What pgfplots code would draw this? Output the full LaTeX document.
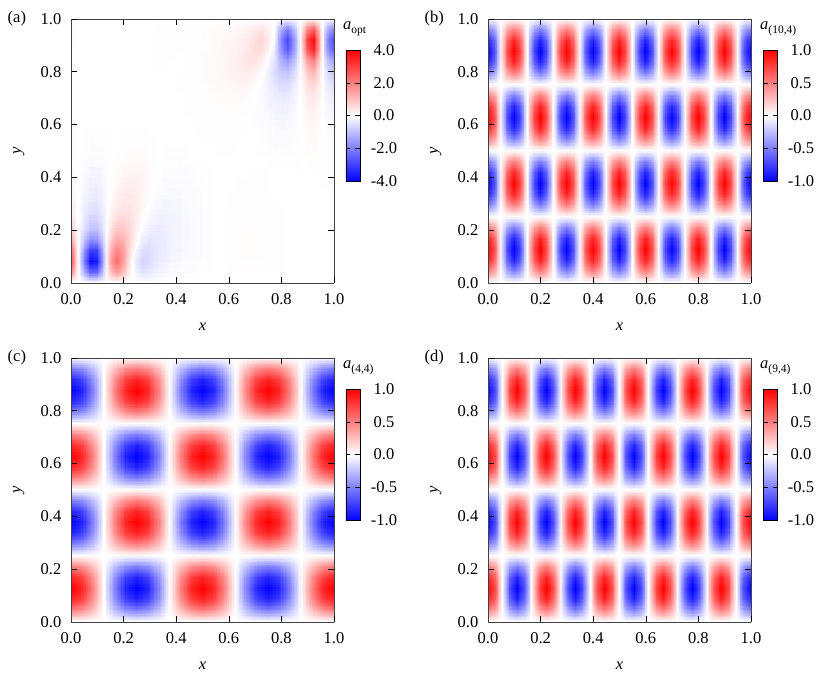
\documentclass[border=0pt]{standalone}
\usepackage{fontspec}
\setmainfont{Liberation Serif}
\usepackage{pgfplots}
\pgfplotsset{compat=1.18}
\usepgfplotslibrary{patchplots}
\AtBeginDocument{\fontsize{16.5}{19}\selectfont}
\newcommand\cbl[1]{\textit{a}\raisebox{-3.5pt}{\fontsize{11.5}{12}\selectfont #1}}
\pgfplotsset{
  colormap={bwr}{rgb255=(0,0,255) rgb255=(255,255,255) rgb255=(255,0,0)},
  onedec/.style={/pgf/number format/fixed, /pgf/number format/fixed zerofill, /pgf/number format/precision=1, /pgf/number format/assume math mode=true},
  panel/.style={
    scale only axis, width=263pt, height=264pt,
    view={0}{90},
    xmin=0, xmax=1, ymin=0, ymax=1,
    xtick={0,0.2,...,1}, ytick={0,0.2,...,1},
    tick align=inside, major tick length=6pt,
    tick style={black,line width=0.6pt}, axis line style={black!75,line width=0.9pt},
    scaled ticks=false,
    xticklabel style={onedec,yshift=-5pt}, yticklabel style={onedec,xshift=-4pt},
    xlabel={\textit{x}}, ylabel={\textit{y}},
    xlabel style={yshift=-7pt}, ylabel style={yshift=5pt},
    colormap name=bwr,
    colorbar,
  },
  cbar/.style={
    colorbar style={
      at={(1.0456,0.386)}, anchor=south west,
      scale only axis, width=14pt, height=131pt,
      ytick={#1}, ytick pos=both, yticklabel pos=right,
      ytick align=inside, major tick length=4.5pt,
      tick style={black,line width=0.6pt},
      yticklabel style={onedec,anchor=center,xshift=24pt},
    },
  },
  field/.style={surf, shader=interp, patch type=bilinear, mesh/cols=#1, mesh/ordering=x varies},
}
\begin{document}
\begin{tikzpicture}
\path[use as bounding box] (0,0) rectangle (830pt,679pt);
% (a) optimal field, 41 columns by 26 rows
\begin{axis}[panel, cbar={-4,-2,0,2,4}, at={(71pt,396pt)}, anchor=south west, point meta min=-4, point meta max=4]
\addplot3[field=41] table[row sep=\\, header=false, x expr={(\coordindex-41*floor((\coordindex+0.5)/41))/40}, y expr={floor((\coordindex+0.5)/41)/25}, z index=0] {
0\\0\\0\\0\\0\\0\\0\\0\\0\\0\\0\\0\\0\\0\\0\\0\\0\\0\\0\\0\\0\\0\\0\\0\\0\\0\\0\\0\\0\\0\\0\\0\\0\\0\\0\\0\\0\\0\\0\\0\\0\\
2.0\\.3\\-1.2\\-2.5\\-2.4\\-.8\\.9\\1.6\\1.0\\.2\\-.2\\-.45\\-.35\\-.22\\-.15\\-.1\\-.08\\-.06\\-.05\\-.03\\-.02\\-.01\\0\\0\\.01\\.02\\.03\\.03\\.03\\.03\\.02\\.01\\.01\\0\\0\\0\\0\\0\\0\\0\\0\\
3.0\\.4\\-1.9\\-3.8\\-3.6\\-1.2\\1.4\\2.4\\1.5\\.3\\-.35\\-.7\\-.55\\-.35\\-.25\\-.18\\-.13\\-.1\\-.08\\-.05\\-.03\\-.01\\0\\.01\\.02\\.03\\.05\\.05\\.05\\.04\\.03\\.02\\.01\\0\\0\\0\\0\\0\\0\\0\\0\\
2.5\\.3\\-1.5\\-3.1\\-3.0\\-1.0\\1.1\\2.0\\1.5\\.5\\-.15\\-.55\\-.5\\-.38\\-.28\\-.2\\-.15\\-.11\\-.09\\-.06\\-.03\\-.01\\0\\.01\\.02\\.03\\.05\\.05\\.05\\.04\\.03\\.02\\.01\\0\\0\\0\\0\\0\\0\\0\\0\\
1.5\\.2\\-.9\\-1.8\\-1.7\\-.6\\.7\\1.4\\1.2\\.6\\.1\\-.3\\-.4\\-.35\\-.28\\-.2\\-.16\\-.12\\-.09\\-.06\\-.03\\-.01\\0\\.01\\.02\\.03\\.04\\.04\\.04\\.03\\.03\\.02\\.01\\0\\0\\0\\0\\0\\0\\0\\0\\
.9\\.1\\-.5\\-1.0\\-1.0\\-.4\\.4\\.9\\.9\\.6\\.2\\-.1\\-.25\\-.3\\-.25\\-.2\\-.15\\-.12\\-.09\\-.06\\-.03\\-.01\\0\\.01\\.01\\.02\\.03\\.03\\.03\\.03\\.02\\.02\\.01\\0\\0\\0\\0\\0\\0\\0\\0\\
.55\\.05\\-.35\\-.65\\-.65\\-.3\\.2\\.55\\.65\\.5\\.28\\.02\\-.15\\-.2\\-.2\\-.17\\-.14\\-.11\\-.08\\-.06\\-.03\\-.01\\0\\.01\\.01\\.02\\.02\\.02\\.02\\.02\\.02\\.01\\.01\\0\\0\\0\\0\\0\\0\\0\\0\\
.35\\.03\\-.25\\-.45\\-.45\\-.22\\.12\\.35\\.45\\.42\\.3\\.1\\-.06\\-.14\\-.15\\-.14\\-.12\\-.1\\-.07\\-.05\\-.03\\-.01\\0\\0\\.01\\.01\\.02\\.02\\.02\\.02\\.01\\.01\\0\\0\\0\\0\\0\\0\\0\\0\\0\\
.22\\.02\\-.18\\-.32\\-.32\\-.18\\.06\\.24\\.32\\.33\\.28\\.14\\0\\-.08\\-.11\\-.11\\-.1\\-.08\\-.06\\-.04\\-.02\\-.01\\0\\0\\.01\\.01\\.01\\.01\\.01\\.01\\.01\\0\\0\\0\\0\\0\\0\\0\\0\\0\\0\\
.15\\.01\\-.13\\-.24\\-.24\\-.14\\.03\\.16\\.24\\.26\\.24\\.15\\.04\\-.04\\-.07\\-.08\\-.08\\-.06\\-.05\\-.03\\-.02\\-.01\\0\\0\\0\\.01\\.01\\.01\\.01\\.01\\0\\0\\0\\0\\0\\0\\0\\0\\.01\\.01\\0\\
.1\\.01\\-.1\\-.18\\-.18\\-.11\\.01\\.1\\.17\\.2\\.19\\.14\\.06\\-.01\\-.04\\-.05\\-.05\\-.04\\-.03\\-.02\\-.01\\-.01\\0\\0\\0\\0\\0\\.01\\.01\\.01\\0\\0\\0\\0\\-.01\\-.01\\0\\.01\\.02\\.02\\-.01\\
.06\\.01\\-.06\\-.1\\-.1\\-.06\\0\\.05\\.08\\.11\\.11\\.08\\.04\\0\\-.02\\-.03\\-.03\\-.02\\-.02\\-.01\\-.01\\0\\0\\0\\0\\0\\0\\0\\0\\0\\-.01\\-.02\\-.02\\-.02\\-.01\\0\\.02\\.03\\.01\\-.01\\-.02\\
.03\\0\\-.03\\-.05\\-.05\\-.03\\0\\.02\\.04\\.05\\.05\\.04\\.02\\0\\-.01\\-.01\\-.01\\-.01\\0\\0\\0\\0\\.01\\.01\\.01\\0\\0\\0\\-.01\\-.02\\-.03\\-.04\\-.05\\-.03\\-.02\\.01\\.04\\.05\\.01\\-.02\\-.04\\
.02\\0\\-.02\\-.03\\-.03\\-.02\\0\\.01\\.02\\.03\\.03\\.02\\.01\\0\\0\\0\\0\\0\\0\\0\\.01\\.01\\.01\\.01\\.01\\.01\\0\\0\\-.01\\-.03\\-.05\\-.06\\-.07\\-.05\\-.03\\.01\\.06\\.08\\.02\\-.03\\-.06\\
.01\\0\\-.01\\-.01\\-.01\\-.01\\0\\.01\\.01\\.02\\.01\\.01\\0\\0\\0\\0\\0\\0\\0\\.01\\.01\\.01\\.02\\.02\\.02\\.02\\.01\\0\\-.02\\-.05\\-.07\\-.09\\-.1\\-.08\\-.04\\.01\\.09\\.11\\.03\\-.05\\-.09\\
0\\0\\0\\0\\0\\0\\0\\0\\0\\0\\0\\0\\0\\0\\0\\0\\0\\0\\.01\\.01\\.02\\.02\\.03\\.03\\.03\\.03\\.02\\0\\-.03\\-.07\\-.1\\-.13\\-.14\\-.12\\-.06\\.02\\.12\\.16\\.04\\-.07\\-.12\\
0\\0\\0\\0\\0\\0\\0\\0\\0\\0\\0\\0\\0\\0\\0\\0\\0\\.01\\.01\\.02\\.02\\.03\\.04\\.05\\.05\\.05\\.04\\.01\\-.04\\-.08\\-.13\\-.17\\-.2\\-.17\\-.09\\.02\\.17\\.22\\.06\\-.1\\-.18\\
0\\0\\0\\0\\0\\0\\0\\0\\0\\0\\0\\0\\0\\0\\0\\0\\0\\.01\\.02\\.02\\.03\\.05\\.06\\.07\\.08\\.08\\.07\\.03\\-.03\\-.09\\-.16\\-.24\\-.28\\-.25\\-.14\\.02\\.24\\.32\\.08\\-.15\\-.26\\
0\\0\\0\\0\\0\\0\\0\\0\\0\\0\\0\\0\\0\\0\\0\\0\\.01\\.01\\.02\\.03\\.05\\.06\\.08\\.09\\.11\\.12\\.12\\.08\\.01\\-.08\\-.2\\-.33\\-.42\\-.38\\-.22\\.02\\.35\\.48\\.12\\-.22\\-.4\\
0\\0\\0\\0\\0\\0\\0\\0\\0\\0\\0\\0\\0\\0\\0\\0\\.01\\.02\\.03\\.04\\.06\\.08\\.1\\.12\\.15\\.17\\.2\\.18\\.1\\-.03\\-.2\\-.45\\-.6\\-.6\\-.35\\.02\\.55\\.75\\.18\\-.35\\-.6\\
0\\0\\0\\0\\0\\0\\0\\0\\0\\0\\0\\0\\-.01\\-.01\\-.01\\0\\0\\.02\\.03\\.05\\.07\\.09\\.11\\.14\\.18\\.22\\.28\\.3\\.22\\.05\\-.2\\-.55\\-.9\\-1.0\\-.6\\.03\\.9\\1.2\\.28\\-.55\\-.9\\
0\\0\\0\\0\\0\\0\\0\\0\\0\\0\\0\\0\\-.01\\-.01\\-.01\\-.01\\0\\.01\\.03\\.05\\.07\\.09\\.11\\.14\\.18\\.24\\.34\\.45\\.45\\.3\\-.05\\-.45\\-1.2\\-1.6\\-.95\\.05\\1.5\\2.0\\.45\\-.9\\-1.5\\
.01\\0\\0\\0\\0\\0\\0\\0\\0\\0\\0\\0\\-.01\\-.01\\-.02\\-.02\\-.01\\.01\\.03\\.04\\.05\\.07\\.09\\.12\\.15\\.2\\.28\\.4\\.55\\.55\\.15\\-.35\\-1.7\\-2.6\\-1.5\\.1\\2.6\\3.4\\.7\\-1.6\\-2.5\\
.01\\0\\0\\0\\0\\0\\0\\0\\0\\0\\0\\0\\-.01\\-.01\\-.02\\-.02\\-.01\\.01\\.02\\.03\\.05\\.07\\.09\\.11\\.13\\.16\\.22\\.32\\.5\\.65\\.35\\-.1\\-1.9\\-2.9\\-1.6\\.2\\3.0\\3.8\\.8\\-1.8\\-2.8\\
.01\\0\\0\\0\\0\\0\\0\\0\\0\\0\\0\\0\\0\\-.01\\-.01\\-.01\\0\\.01\\.01\\.02\\.03\\.04\\.06\\.07\\.08\\.1\\.14\\.2\\.33\\.42\\.22\\-.05\\-1.3\\-2.0\\-1\\.1\\1.9\\2.5\\.5\\-1.2\\-1.9\\
0\\0\\0\\0\\0\\0\\0\\0\\0\\0\\0\\0\\0\\0\\0\\0\\0\\0\\0\\0\\0\\0\\0\\0\\0\\0\\0\\0\\0\\0\\0\\0\\0\\0\\0\\0\\0\\0\\0\\0\\0\\
};
\end{axis}
% (b) mode (10,4), 41 columns by 25 rows
\begin{axis}[panel, cbar={-1,-0.5,0,0.5,1}, at={(488pt,396pt)}, anchor=south west, point meta min=-1, point meta max=1]
\addplot3[field=41] table[row sep=\\, header=false, x expr={(\coordindex-41*floor((\coordindex+0.5)/41))/40}, y expr={floor((\coordindex+0.5)/41)/24}, z index=0] {
0\\0\\0\\0\\0\\0\\0\\0\\0\\0\\0\\0\\0\\0\\0\\0\\0\\0\\0\\0\\0\\0\\0\\0\\0\\0\\0\\0\\0\\0\\0\\0\\0\\0\\0\\0\\0\\0\\0\\0\\0\\
.5\\.35\\0\\-.35\\-.5\\-.35\\0\\.35\\.5\\.35\\0\\-.35\\-.5\\-.35\\0\\.35\\.5\\.35\\0\\-.35\\-.5\\-.35\\0\\.35\\.5\\.35\\0\\-.35\\-.5\\-.35\\0\\.35\\.5\\.35\\0\\-.35\\-.5\\-.35\\0\\.35\\.5\\
.87\\.61\\0\\-.61\\-.87\\-.61\\0\\.61\\.87\\.61\\0\\-.61\\-.87\\-.61\\0\\.61\\.87\\.61\\0\\-.61\\-.87\\-.61\\0\\.61\\.87\\.61\\0\\-.61\\-.87\\-.61\\0\\.61\\.87\\.61\\0\\-.61\\-.87\\-.61\\0\\.61\\.87\\
1\\.71\\0\\-.71\\-1\\-.71\\0\\.71\\1\\.71\\0\\-.71\\-1\\-.71\\0\\.71\\1\\.71\\0\\-.71\\-1\\-.71\\0\\.71\\1\\.71\\0\\-.71\\-1\\-.71\\0\\.71\\1\\.71\\0\\-.71\\-1\\-.71\\0\\.71\\1\\
.87\\.61\\0\\-.61\\-.87\\-.61\\0\\.61\\.87\\.61\\0\\-.61\\-.87\\-.61\\0\\.61\\.87\\.61\\0\\-.61\\-.87\\-.61\\0\\.61\\.87\\.61\\0\\-.61\\-.87\\-.61\\0\\.61\\.87\\.61\\0\\-.61\\-.87\\-.61\\0\\.61\\.87\\
.5\\.35\\0\\-.35\\-.5\\-.35\\0\\.35\\.5\\.35\\0\\-.35\\-.5\\-.35\\0\\.35\\.5\\.35\\0\\-.35\\-.5\\-.35\\0\\.35\\.5\\.35\\0\\-.35\\-.5\\-.35\\0\\.35\\.5\\.35\\0\\-.35\\-.5\\-.35\\0\\.35\\.5\\
0\\0\\0\\0\\0\\0\\0\\0\\0\\0\\0\\0\\0\\0\\0\\0\\0\\0\\0\\0\\0\\0\\0\\0\\0\\0\\0\\0\\0\\0\\0\\0\\0\\0\\0\\0\\0\\0\\0\\0\\0\\
-0.5\\-.35\\0\\.35\\.5\\.35\\0\\-.35\\-.5\\-.35\\0\\.35\\.5\\.35\\0\\-.35\\-.5\\-.35\\0\\.35\\.5\\.35\\0\\-.35\\-.5\\-.35\\0\\.35\\.5\\.35\\0\\-.35\\-.5\\-.35\\0\\.35\\.5\\.35\\0\\-.35\\-.5\\
-0.87\\-.61\\0\\.61\\.87\\.61\\0\\-.61\\-.87\\-.61\\0\\.61\\.87\\.61\\0\\-.61\\-.87\\-.61\\0\\.61\\.87\\.61\\0\\-.61\\-.87\\-.61\\0\\.61\\.87\\.61\\0\\-.61\\-.87\\-.61\\0\\.61\\.87\\.61\\0\\-.61\\-.87\\
-1\\-.71\\0\\.71\\1\\.71\\0\\-.71\\-1\\-.71\\0\\.71\\1\\.71\\0\\-.71\\-1\\-.71\\0\\.71\\1\\.71\\0\\-.71\\-1\\-.71\\0\\.71\\1\\.71\\0\\-.71\\-1\\-.71\\0\\.71\\1\\.71\\0\\-.71\\-1\\
-0.87\\-.61\\0\\.61\\.87\\.61\\0\\-.61\\-.87\\-.61\\0\\.61\\.87\\.61\\0\\-.61\\-.87\\-.61\\0\\.61\\.87\\.61\\0\\-.61\\-.87\\-.61\\0\\.61\\.87\\.61\\0\\-.61\\-.87\\-.61\\0\\.61\\.87\\.61\\0\\-.61\\-.87\\
-0.5\\-.35\\0\\.35\\.5\\.35\\0\\-.35\\-.5\\-.35\\0\\.35\\.5\\.35\\0\\-.35\\-.5\\-.35\\0\\.35\\.5\\.35\\0\\-.35\\-.5\\-.35\\0\\.35\\.5\\.35\\0\\-.35\\-.5\\-.35\\0\\.35\\.5\\.35\\0\\-.35\\-.5\\
0\\0\\0\\0\\0\\0\\0\\0\\0\\0\\0\\0\\0\\0\\0\\0\\0\\0\\0\\0\\0\\0\\0\\0\\0\\0\\0\\0\\0\\0\\0\\0\\0\\0\\0\\0\\0\\0\\0\\0\\0\\
.5\\.35\\0\\-.35\\-.5\\-.35\\0\\.35\\.5\\.35\\0\\-.35\\-.5\\-.35\\0\\.35\\.5\\.35\\0\\-.35\\-.5\\-.35\\0\\.35\\.5\\.35\\0\\-.35\\-.5\\-.35\\0\\.35\\.5\\.35\\0\\-.35\\-.5\\-.35\\0\\.35\\.5\\
.87\\.61\\0\\-.61\\-.87\\-.61\\0\\.61\\.87\\.61\\0\\-.61\\-.87\\-.61\\0\\.61\\.87\\.61\\0\\-.61\\-.87\\-.61\\0\\.61\\.87\\.61\\0\\-.61\\-.87\\-.61\\0\\.61\\.87\\.61\\0\\-.61\\-.87\\-.61\\0\\.61\\.87\\
1\\.71\\0\\-.71\\-1\\-.71\\0\\.71\\1\\.71\\0\\-.71\\-1\\-.71\\0\\.71\\1\\.71\\0\\-.71\\-1\\-.71\\0\\.71\\1\\.71\\0\\-.71\\-1\\-.71\\0\\.71\\1\\.71\\0\\-.71\\-1\\-.71\\0\\.71\\1\\
.87\\.61\\0\\-.61\\-.87\\-.61\\0\\.61\\.87\\.61\\0\\-.61\\-.87\\-.61\\0\\.61\\.87\\.61\\0\\-.61\\-.87\\-.61\\0\\.61\\.87\\.61\\0\\-.61\\-.87\\-.61\\0\\.61\\.87\\.61\\0\\-.61\\-.87\\-.61\\0\\.61\\.87\\
.5\\.35\\0\\-.35\\-.5\\-.35\\0\\.35\\.5\\.35\\0\\-.35\\-.5\\-.35\\0\\.35\\.5\\.35\\0\\-.35\\-.5\\-.35\\0\\.35\\.5\\.35\\0\\-.35\\-.5\\-.35\\0\\.35\\.5\\.35\\0\\-.35\\-.5\\-.35\\0\\.35\\.5\\
0\\0\\0\\0\\0\\0\\0\\0\\0\\0\\0\\0\\0\\0\\0\\0\\0\\0\\0\\0\\0\\0\\0\\0\\0\\0\\0\\0\\0\\0\\0\\0\\0\\0\\0\\0\\0\\0\\0\\0\\0\\
-0.5\\-.35\\0\\.35\\.5\\.35\\0\\-.35\\-.5\\-.35\\0\\.35\\.5\\.35\\0\\-.35\\-.5\\-.35\\0\\.35\\.5\\.35\\0\\-.35\\-.5\\-.35\\0\\.35\\.5\\.35\\0\\-.35\\-.5\\-.35\\0\\.35\\.5\\.35\\0\\-.35\\-.5\\
-0.87\\-.61\\0\\.61\\.87\\.61\\0\\-.61\\-.87\\-.61\\0\\.61\\.87\\.61\\0\\-.61\\-.87\\-.61\\0\\.61\\.87\\.61\\0\\-.61\\-.87\\-.61\\0\\.61\\.87\\.61\\0\\-.61\\-.87\\-.61\\0\\.61\\.87\\.61\\0\\-.61\\-.87\\
-1\\-.71\\0\\.71\\1\\.71\\0\\-.71\\-1\\-.71\\0\\.71\\1\\.71\\0\\-.71\\-1\\-.71\\0\\.71\\1\\.71\\0\\-.71\\-1\\-.71\\0\\.71\\1\\.71\\0\\-.71\\-1\\-.71\\0\\.71\\1\\.71\\0\\-.71\\-1\\
-0.87\\-.61\\0\\.61\\.87\\.61\\0\\-.61\\-.87\\-.61\\0\\.61\\.87\\.61\\0\\-.61\\-.87\\-.61\\0\\.61\\.87\\.61\\0\\-.61\\-.87\\-.61\\0\\.61\\.87\\.61\\0\\-.61\\-.87\\-.61\\0\\.61\\.87\\.61\\0\\-.61\\-.87\\
-0.5\\-.35\\0\\.35\\.5\\.35\\0\\-.35\\-.5\\-.35\\0\\.35\\.5\\.35\\0\\-.35\\-.5\\-.35\\0\\.35\\.5\\.35\\0\\-.35\\-.5\\-.35\\0\\.35\\.5\\.35\\0\\-.35\\-.5\\-.35\\0\\.35\\.5\\.35\\0\\-.35\\-.5\\
0\\0\\0\\0\\0\\0\\0\\0\\0\\0\\0\\0\\0\\0\\0\\0\\0\\0\\0\\0\\0\\0\\0\\0\\0\\0\\0\\0\\0\\0\\0\\0\\0\\0\\0\\0\\0\\0\\0\\0\\0\\
};
\end{axis}
% (c) mode (4,4), 25 columns by 25 rows
\begin{axis}[panel, cbar={-1,-0.5,0,0.5,1}, at={(71pt,57pt)}, anchor=south west, point meta min=-1, point meta max=1]
\addplot3[field=25] table[row sep=\\, header=false, x expr={(\coordindex-25*floor((\coordindex+0.5)/25))/24}, y expr={floor((\coordindex+0.5)/25)/24}, z index=0] {
0\\0\\0\\0\\0\\0\\0\\0\\0\\0\\0\\0\\0\\0\\0\\0\\0\\0\\0\\0\\0\\0\\0\\0\\0\\
.5\\.43\\.25\\0\\-.25\\-.43\\-.5\\-.43\\-.25\\0\\.25\\.43\\.5\\.43\\.25\\0\\-.25\\-.43\\-.5\\-.43\\-.25\\0\\.25\\.43\\.5\\
.87\\.75\\.43\\0\\-.43\\-.75\\-.87\\-.75\\-.43\\0\\.43\\.75\\.87\\.75\\.43\\0\\-.43\\-.75\\-.87\\-.75\\-.43\\0\\.43\\.75\\.87\\
1\\.87\\.5\\0\\-.5\\-.87\\-1\\-.87\\-.5\\0\\.5\\.87\\1\\.87\\.5\\0\\-.5\\-.87\\-1\\-.87\\-.5\\0\\.5\\.87\\1\\
.87\\.75\\.43\\0\\-.43\\-.75\\-.87\\-.75\\-.43\\0\\.43\\.75\\.87\\.75\\.43\\0\\-.43\\-.75\\-.87\\-.75\\-.43\\0\\.43\\.75\\.87\\
.5\\.43\\.25\\0\\-.25\\-.43\\-.5\\-.43\\-.25\\0\\.25\\.43\\.5\\.43\\.25\\0\\-.25\\-.43\\-.5\\-.43\\-.25\\0\\.25\\.43\\.5\\
0\\0\\0\\0\\0\\0\\0\\0\\0\\0\\0\\0\\0\\0\\0\\0\\0\\0\\0\\0\\0\\0\\0\\0\\0\\
-0.5\\-.43\\-.25\\0\\.25\\.43\\.5\\.43\\.25\\0\\-.25\\-.43\\-.5\\-.43\\-.25\\0\\.25\\.43\\.5\\.43\\.25\\0\\-.25\\-.43\\-.5\\
-0.87\\-.75\\-.43\\0\\.43\\.75\\.87\\.75\\.43\\0\\-.43\\-.75\\-.87\\-.75\\-.43\\0\\.43\\.75\\.87\\.75\\.43\\0\\-.43\\-.75\\-.87\\
-1\\-.87\\-.5\\0\\.5\\.87\\1\\.87\\.5\\0\\-.5\\-.87\\-1\\-.87\\-.5\\0\\.5\\.87\\1\\.87\\.5\\0\\-.5\\-.87\\-1\\
-0.87\\-.75\\-.43\\0\\.43\\.75\\.87\\.75\\.43\\0\\-.43\\-.75\\-.87\\-.75\\-.43\\0\\.43\\.75\\.87\\.75\\.43\\0\\-.43\\-.75\\-.87\\
-0.5\\-.43\\-.25\\0\\.25\\.43\\.5\\.43\\.25\\0\\-.25\\-.43\\-.5\\-.43\\-.25\\0\\.25\\.43\\.5\\.43\\.25\\0\\-.25\\-.43\\-.5\\
0\\0\\0\\0\\0\\0\\0\\0\\0\\0\\0\\0\\0\\0\\0\\0\\0\\0\\0\\0\\0\\0\\0\\0\\0\\
.5\\.43\\.25\\0\\-.25\\-.43\\-.5\\-.43\\-.25\\0\\.25\\.43\\.5\\.43\\.25\\0\\-.25\\-.43\\-.5\\-.43\\-.25\\0\\.25\\.43\\.5\\
.87\\.75\\.43\\0\\-.43\\-.75\\-.87\\-.75\\-.43\\0\\.43\\.75\\.87\\.75\\.43\\0\\-.43\\-.75\\-.87\\-.75\\-.43\\0\\.43\\.75\\.87\\
1\\.87\\.5\\0\\-.5\\-.87\\-1\\-.87\\-.5\\0\\.5\\.87\\1\\.87\\.5\\0\\-.5\\-.87\\-1\\-.87\\-.5\\0\\.5\\.87\\1\\
.87\\.75\\.43\\0\\-.43\\-.75\\-.87\\-.75\\-.43\\0\\.43\\.75\\.87\\.75\\.43\\0\\-.43\\-.75\\-.87\\-.75\\-.43\\0\\.43\\.75\\.87\\
.5\\.43\\.25\\0\\-.25\\-.43\\-.5\\-.43\\-.25\\0\\.25\\.43\\.5\\.43\\.25\\0\\-.25\\-.43\\-.5\\-.43\\-.25\\0\\.25\\.43\\.5\\
0\\0\\0\\0\\0\\0\\0\\0\\0\\0\\0\\0\\0\\0\\0\\0\\0\\0\\0\\0\\0\\0\\0\\0\\0\\
-0.5\\-.43\\-.25\\0\\.25\\.43\\.5\\.43\\.25\\0\\-.25\\-.43\\-.5\\-.43\\-.25\\0\\.25\\.43\\.5\\.43\\.25\\0\\-.25\\-.43\\-.5\\
-0.87\\-.75\\-.43\\0\\.43\\.75\\.87\\.75\\.43\\0\\-.43\\-.75\\-.87\\-.75\\-.43\\0\\.43\\.75\\.87\\.75\\.43\\0\\-.43\\-.75\\-.87\\
-1\\-.87\\-.5\\0\\.5\\.87\\1\\.87\\.5\\0\\-.5\\-.87\\-1\\-.87\\-.5\\0\\.5\\.87\\1\\.87\\.5\\0\\-.5\\-.87\\-1\\
-0.87\\-.75\\-.43\\0\\.43\\.75\\.87\\.75\\.43\\0\\-.43\\-.75\\-.87\\-.75\\-.43\\0\\.43\\.75\\.87\\.75\\.43\\0\\-.43\\-.75\\-.87\\
-0.5\\-.43\\-.25\\0\\.25\\.43\\.5\\.43\\.25\\0\\-.25\\-.43\\-.5\\-.43\\-.25\\0\\.25\\.43\\.5\\.43\\.25\\0\\-.25\\-.43\\-.5\\
0\\0\\0\\0\\0\\0\\0\\0\\0\\0\\0\\0\\0\\0\\0\\0\\0\\0\\0\\0\\0\\0\\0\\0\\0\\
};
\end{axis}
% (d) mode (9,4), 37 columns by 25 rows
\begin{axis}[panel, cbar={-1,-0.5,0,0.5,1}, at={(488pt,57pt)}, anchor=south west, point meta min=-1, point meta max=1]
\addplot3[field=37] table[row sep=\\, header=false, x expr={(\coordindex-37*floor((\coordindex+0.5)/37))/36}, y expr={floor((\coordindex+0.5)/37)/24}, z index=0] {
0\\0\\0\\0\\0\\0\\0\\0\\ 0\\0\\0\\0\\0\\0\\0\\0\\ 0\\0\\0\\0\\0\\0\\0\\0\\ 0\\0\\0\\0\\0\\0\\0\\0\\ 0\\0\\0\\0\\0\\
.5\\.35\\0\\-.35\\-.5\\-.35\\0\\.35\\
.5\\.35\\0\\-.35\\-.5\\-.35\\0\\.35\\
.5\\.35\\0\\-.35\\-.5\\-.35\\0\\.35\\
.5\\.35\\0\\-.35\\-.5\\-.35\\0\\.35\\
.5\\.35\\0\\-.35\\-.5\\
.87\\.61\\0\\-.61\\-.87\\-.61\\0\\.61\\
.87\\.61\\0\\-.61\\-.87\\-.61\\0\\.61\\
.87\\.61\\0\\-.61\\-.87\\-.61\\0\\.61\\
.87\\.61\\0\\-.61\\-.87\\-.61\\0\\.61\\
.87\\.61\\0\\-.61\\-.87\\
1\\.71\\0\\-.71\\-1\\-.71\\0\\.71\\
1\\.71\\0\\-.71\\-1\\-.71\\0\\.71\\
1\\.71\\0\\-.71\\-1\\-.71\\0\\.71\\
1\\.71\\0\\-.71\\-1\\-.71\\0\\.71\\
1\\.71\\0\\-.71\\-1\\
.87\\.61\\0\\-.61\\-.87\\-.61\\0\\.61\\
.87\\.61\\0\\-.61\\-.87\\-.61\\0\\.61\\
.87\\.61\\0\\-.61\\-.87\\-.61\\0\\.61\\
.87\\.61\\0\\-.61\\-.87\\-.61\\0\\.61\\
.87\\.61\\0\\-.61\\-.87\\
.5\\.35\\0\\-.35\\-.5\\-.35\\0\\.35\\
.5\\.35\\0\\-.35\\-.5\\-.35\\0\\.35\\
.5\\.35\\0\\-.35\\-.5\\-.35\\0\\.35\\
.5\\.35\\0\\-.35\\-.5\\-.35\\0\\.35\\
.5\\.35\\0\\-.35\\-.5\\
0\\0\\0\\0\\0\\0\\0\\0\\ 0\\0\\0\\0\\0\\0\\0\\0\\ 0\\0\\0\\0\\0\\0\\0\\0\\ 0\\0\\0\\0\\0\\0\\0\\0\\ 0\\0\\0\\0\\0\\
-0.5\\-.35\\0\\.35\\.5\\.35\\0\\-.35\\
-0.5\\-.35\\0\\.35\\.5\\.35\\0\\-.35\\
-0.5\\-.35\\0\\.35\\.5\\.35\\0\\-.35\\
-0.5\\-.35\\0\\.35\\.5\\.35\\0\\-.35\\
-0.5\\-.35\\0\\.35\\.5\\
-0.87\\-.61\\0\\.61\\.87\\.61\\0\\-.61\\
-0.87\\-.61\\0\\.61\\.87\\.61\\0\\-.61\\
-0.87\\-.61\\0\\.61\\.87\\.61\\0\\-.61\\
-0.87\\-.61\\0\\.61\\.87\\.61\\0\\-.61\\
-0.87\\-.61\\0\\.61\\.87\\
-1\\-.71\\0\\.71\\1\\.71\\0\\-.71\\
-1\\-.71\\0\\.71\\1\\.71\\0\\-.71\\
-1\\-.71\\0\\.71\\1\\.71\\0\\-.71\\
-1\\-.71\\0\\.71\\1\\.71\\0\\-.71\\
-1\\-.71\\0\\.71\\1\\
-0.87\\-.61\\0\\.61\\.87\\.61\\0\\-.61\\
-0.87\\-.61\\0\\.61\\.87\\.61\\0\\-.61\\
-0.87\\-.61\\0\\.61\\.87\\.61\\0\\-.61\\
-0.87\\-.61\\0\\.61\\.87\\.61\\0\\-.61\\
-0.87\\-.61\\0\\.61\\.87\\
-0.5\\-.35\\0\\.35\\.5\\.35\\0\\-.35\\
-0.5\\-.35\\0\\.35\\.5\\.35\\0\\-.35\\
-0.5\\-.35\\0\\.35\\.5\\.35\\0\\-.35\\
-0.5\\-.35\\0\\.35\\.5\\.35\\0\\-.35\\
-0.5\\-.35\\0\\.35\\.5\\
0\\0\\0\\0\\0\\0\\0\\0\\ 0\\0\\0\\0\\0\\0\\0\\0\\ 0\\0\\0\\0\\0\\0\\0\\0\\ 0\\0\\0\\0\\0\\0\\0\\0\\ 0\\0\\0\\0\\0\\
.5\\.35\\0\\-.35\\-.5\\-.35\\0\\.35\\
.5\\.35\\0\\-.35\\-.5\\-.35\\0\\.35\\
.5\\.35\\0\\-.35\\-.5\\-.35\\0\\.35\\
.5\\.35\\0\\-.35\\-.5\\-.35\\0\\.35\\
.5\\.35\\0\\-.35\\-.5\\
.87\\.61\\0\\-.61\\-.87\\-.61\\0\\.61\\
.87\\.61\\0\\-.61\\-.87\\-.61\\0\\.61\\
.87\\.61\\0\\-.61\\-.87\\-.61\\0\\.61\\
.87\\.61\\0\\-.61\\-.87\\-.61\\0\\.61\\
.87\\.61\\0\\-.61\\-.87\\
1\\.71\\0\\-.71\\-1\\-.71\\0\\.71\\
1\\.71\\0\\-.71\\-1\\-.71\\0\\.71\\
1\\.71\\0\\-.71\\-1\\-.71\\0\\.71\\
1\\.71\\0\\-.71\\-1\\-.71\\0\\.71\\
1\\.71\\0\\-.71\\-1\\
.87\\.61\\0\\-.61\\-.87\\-.61\\0\\.61\\
.87\\.61\\0\\-.61\\-.87\\-.61\\0\\.61\\
.87\\.61\\0\\-.61\\-.87\\-.61\\0\\.61\\
.87\\.61\\0\\-.61\\-.87\\-.61\\0\\.61\\
.87\\.61\\0\\-.61\\-.87\\
.5\\.35\\0\\-.35\\-.5\\-.35\\0\\.35\\
.5\\.35\\0\\-.35\\-.5\\-.35\\0\\.35\\
.5\\.35\\0\\-.35\\-.5\\-.35\\0\\.35\\
.5\\.35\\0\\-.35\\-.5\\-.35\\0\\.35\\
.5\\.35\\0\\-.35\\-.5\\
0\\0\\0\\0\\0\\0\\0\\0\\ 0\\0\\0\\0\\0\\0\\0\\0\\ 0\\0\\0\\0\\0\\0\\0\\0\\ 0\\0\\0\\0\\0\\0\\0\\0\\ 0\\0\\0\\0\\0\\
-0.5\\-.35\\0\\.35\\.5\\.35\\0\\-.35\\
-0.5\\-.35\\0\\.35\\.5\\.35\\0\\-.35\\
-0.5\\-.35\\0\\.35\\.5\\.35\\0\\-.35\\
-0.5\\-.35\\0\\.35\\.5\\.35\\0\\-.35\\
-0.5\\-.35\\0\\.35\\.5\\
-0.87\\-.61\\0\\.61\\.87\\.61\\0\\-.61\\
-0.87\\-.61\\0\\.61\\.87\\.61\\0\\-.61\\
-0.87\\-.61\\0\\.61\\.87\\.61\\0\\-.61\\
-0.87\\-.61\\0\\.61\\.87\\.61\\0\\-.61\\
-0.87\\-.61\\0\\.61\\.87\\
-1\\-.71\\0\\.71\\1\\.71\\0\\-.71\\
-1\\-.71\\0\\.71\\1\\.71\\0\\-.71\\
-1\\-.71\\0\\.71\\1\\.71\\0\\-.71\\
-1\\-.71\\0\\.71\\1\\.71\\0\\-.71\\
-1\\-.71\\0\\.71\\1\\
-0.87\\-.61\\0\\.61\\.87\\.61\\0\\-.61\\
-0.87\\-.61\\0\\.61\\.87\\.61\\0\\-.61\\
-0.87\\-.61\\0\\.61\\.87\\.61\\0\\-.61\\
-0.87\\-.61\\0\\.61\\.87\\.61\\0\\-.61\\
-0.87\\-.61\\0\\.61\\.87\\
-0.5\\-.35\\0\\.35\\.5\\.35\\0\\-.35\\
-0.5\\-.35\\0\\.35\\.5\\.35\\0\\-.35\\
-0.5\\-.35\\0\\.35\\.5\\.35\\0\\-.35\\
-0.5\\-.35\\0\\.35\\.5\\.35\\0\\-.35\\
-0.5\\-.35\\0\\.35\\.5\\
0\\0\\0\\0\\0\\0\\0\\0\\ 0\\0\\0\\0\\0\\0\\0\\0\\ 0\\0\\0\\0\\0\\0\\0\\0\\ 0\\0\\0\\0\\0\\0\\0\\0\\ 0\\0\\0\\0\\0\\
};
\end{axis}
\node[anchor=west] at (2pt,660pt) {(a)};
\node[anchor=west] at (419pt,660pt) {(b)};
\node[anchor=west] at (2pt,321pt) {(c)};
\node[anchor=west] at (419pt,321pt) {(d)};
\node[anchor=west,inner sep=0pt] at (343pt,650pt) {\cbl{opt}};
\node[anchor=west,inner sep=0pt] at (760pt,650pt) {\cbl{(10,4)}};
\node[anchor=west,inner sep=0pt] at (343pt,311pt) {\cbl{(4,4)}};
\node[anchor=west,inner sep=0pt] at (760pt,311pt) {\cbl{(9,4)}};
\end{tikzpicture}
\end{document}
